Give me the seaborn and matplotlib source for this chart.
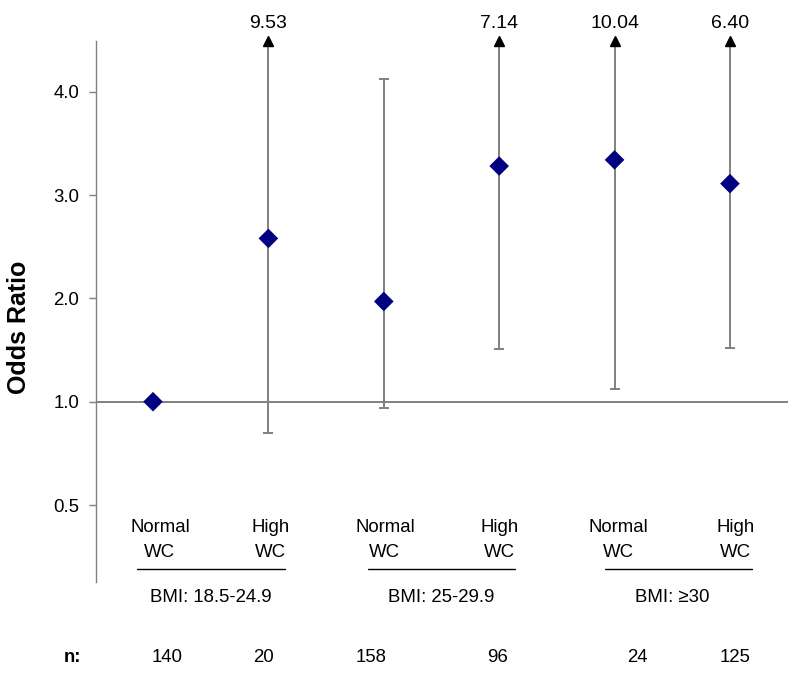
import matplotlib
matplotlib.use("Agg")
import matplotlib.pyplot as plt
import numpy as np
import pandas as pd
import seaborn as sns

# values
wc_labels = ["Normal", "High", "Normal", "High", "Normal", "High"]
bmi_groups = ["BMI: 18.5-24.9", "BMI: 25-29.9", "BMI: \u226530"]
odds = [1.00, 2.58, 1.97, 3.28, 3.34, 3.11]
ci_low = [np.nan, 0.70, 0.94, 1.51, 1.12, 1.52]
ci_high = [np.nan, 9.53, 4.12, 7.14, 10.04, 6.40]
n_counts = [140, 20, 158, 96, 24, 125]
ytick_pos = [0, 1, 2, 3, 4]
ytick_labels = ["0.5", "1.0", "2.0", "3.0", "4.0"]

# layout tweaks (x offsets of the hand placed labels, in category units)
label_shift = [0.06, 0.02, 0.01, 0.0, 0.03, 0.05]
n_shift = [0.12, -0.04, -0.11, -0.01, 0.2, 0.04]
line_shift = [0.0, 0.0, 0.055]

sns.set_theme(style="ticks")
plt.rcParams['font.family'] = ['Liberation Sans', 'DejaVu Sans']

grey = "#808080"
top = 4.49
fs = 13.4

fig = plt.figure(figsize=(8, 6.79), dpi=100)
ax = fig.add_axes([0.12, 0.1428, 0.865, 0.7968])

ax.axhline(1.0, color=grey, lw=1.4, zorder=1)

for i in range(len(odds)):
    lo, hi = ci_low[i], ci_high[i]
    if np.isnan(lo):
        continue
    if hi > top:
        ax.plot([i, i], [lo, top], color=grey, lw=1.4, zorder=2, clip_on=False)
        ax.plot(i, top, marker="^", ms=7, color="black", zorder=3, clip_on=False)
        ax.annotate(f"{hi:.2f}", xy=(i, top), xytext=(0, 9.6), textcoords="offset points",
                    ha="center", va="baseline", fontsize=14, color="black")
        ax.plot(i, lo, marker="_", ms=6.5, mew=1.4, color=grey, zorder=2)
    else:
        ax.plot([i, i], [lo, hi], color=grey, lw=1.4, zorder=2)
        ax.plot([i, i], [lo, hi], ls="none", marker="_", ms=6.5, mew=1.4, color=grey, zorder=2)

df = pd.DataFrame({"pos": range(len(odds)), "odds": odds})
sns.scatterplot(data=df, x="pos", y="odds", marker="D", s=100, color="#000080",
                edgecolor="none", zorder=4, ax=ax)

ax.set_xlim(-0.494, 5.503)
ax.set_ylim(-0.745, top)
ax.set_xticks([])
ax.set_yticks(ytick_pos, ytick_labels)
ax.tick_params(axis="y", length=5, width=1, color=grey, labelsize=fs, pad=7, labelcolor="black")
ax.set_xlabel("")
ax.set_ylabel("")
for s in ["top", "right", "bottom"]:
    ax.spines[s].set_visible(False)
ax.spines["left"].set_color(grey)
ax.spines["left"].set_linewidth(1)

# category labels under the points
for i, lab in enumerate(wc_labels):
    x = i + label_shift[i]
    ax.text(x, -0.262, lab, ha="center", va="baseline", fontsize=fs, color="black")
    ax.text(x, -0.504, "WC", ha="center", va="baseline", fontsize=fs, color="black")

for g, name in enumerate(bmi_groups):
    x0 = 2 * g + line_shift[g]
    ax.plot([x0 - 0.14, x0 + 1.14], [-0.622, -0.622], color="black", lw=1, clip_on=False)
    ax.text(2 * g + 0.5, -0.936, name, ha="center", va="baseline", fontsize=fs,
            color="black", clip_on=False)

ax.text(-0.70, -1.517, "n:", ha="center", va="baseline", fontsize=fs,
        fontweight="bold", color="black", clip_on=False)
for i, n in enumerate(n_counts):
    ax.text(i + n_shift[i], -1.517, str(n), ha="center", va="baseline", fontsize=fs,
            color="black", clip_on=False)

fig.text(19 / 800, 1 - 327.5 / 679, "Odds Ratio", rotation=90, ha="center", va="center",
         fontsize=18, fontweight="bold", color="black")

plt.savefig("out.png", dpi=100)
